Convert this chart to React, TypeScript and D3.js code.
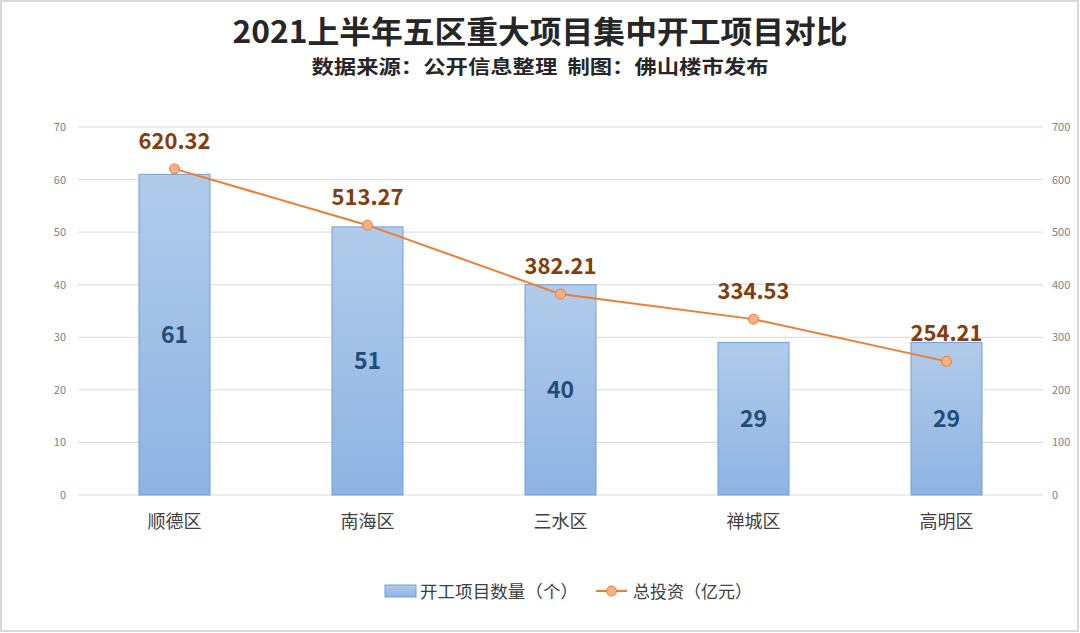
import React from "react";
import * as d3 from "d3";

const categories = ["顺德区", "南海区", "三水区", "禅城区", "高明区"];
const projectCounts = [61, 51, 40, 29, 29];
const investments = [620.32, 513.27, 382.21, 334.53, 254.21];
const leftTicks = [0, 10, 20, 30, 40, 50, 60, 70];
const rightTicks = [0, 100, 200, 300, 400, 500, 600, 700];

const W = 1080, H = 633;
const M = { left: 78, right: 1043, top: 127, bottom: 495 };
const FONT = "'Noto Sans CJK SC', 'Noto Sans', sans-serif";

export default function App() {
  const x = d3.scaleBand<string>().domain(categories).range([M.left, M.right]);
  const yL = d3.scaleLinear().domain([0, 70]).range([M.bottom, M.top]);
  const yR = d3.scaleLinear().domain([0, 700]).range([M.bottom, M.top]);
  const barW = 71;
  const cx = (c: string) => (x(c) as number) + x.bandwidth() / 2;
  const line = d3
    .line<number>()
    .x((_, i) => cx(categories[i]))
    .y((d) => yR(d));

  return (
    <svg
      width={W}
      height={H}
      style={{ position: "absolute", left: 0, top: 0, background: "#fff" }}
      fontFamily={FONT}
    >
      <defs>
        <linearGradient id="barGrad" x1="0" y1="0" x2="0" y2="1">
          <stop offset="0%" stopColor="#B1CBEA" />
          <stop offset="100%" stopColor="#8EB4E3" />
        </linearGradient>
      </defs>
      <rect x={1} y={1} width={W - 3} height={H - 3} fill="#fff" stroke="#D9D9D9" strokeWidth={2} />
      <text x={540} y={43} textAnchor="middle" fontSize={31} fontWeight="bold" fill="#262626"
        textLength={615} lengthAdjust="spacingAndGlyphs">
        2021上半年五区重大项目集中开工项目对比
      </text>
      <text x={540} y={74} textAnchor="middle" fontSize={19} fontWeight="bold" fill="#262626"
        textLength={457} lengthAdjust="spacingAndGlyphs" style={{ whiteSpace: "pre" }}>
        {"数据来源：公开信息整理\u00A0\u00A0制图：佛山楼市发布"}
      </text>
      {leftTicks.map((t) => (
        <g key={t}>
          <line x1={M.left} x2={M.right} y1={yL(t)} y2={yL(t)} stroke="#D9D9D9" strokeWidth={1} />
          <text x={66} y={yL(t) + 4} textAnchor="end" fontSize={11} fill="#7F7F7F">
            {t}
          </text>
        </g>
      ))}
      {rightTicks.map((t) => (
        <text key={t} x={1052} y={yR(t) + 4} textAnchor="start" fontSize={11} fill="#7F7F7F">
          {t}
        </text>
      ))}
      {categories.map((c, i) => (
        <g key={c}>
          <rect
            x={cx(c) - barW / 2}
            y={yL(projectCounts[i])}
            width={barW}
            height={M.bottom - yL(projectCounts[i])}
            fill="url(#barGrad)"
            stroke="#6FA0DA"
            strokeWidth={1}
          />
          <text
            x={cx(c)}
            y={(yL(projectCounts[i]) + M.bottom) / 2 + 8}
            textAnchor="middle"
            fontSize={23}
            fontWeight="bold"
            fill="#1F4E79"
          >
            {projectCounts[i]}
          </text>
          <text x={cx(c)} y={528} textAnchor="middle" fontSize={18} fill="#404040">
            {c}
          </text>
        </g>
      ))}
      <path d={line(investments) || ""} fill="none" stroke="#ED7D31" strokeWidth={2} />
      {investments.map((v, i) => (
        <g key={i}>
          <circle cx={cx(categories[i])} cy={yR(v)} r={5} fill="#F4B183" stroke="#ED7D31" strokeWidth={1} />
          <text
            x={cx(categories[i])}
            y={yR(v) - 20}
            textAnchor="middle"
            fontSize={22}
            fontWeight="bold"
            fill="#843C0C"
          >
            {v.toFixed(2)}
          </text>
        </g>
      ))}
      <g>
        <rect x={385} y={585} width={31} height={12} fill="url(#barGrad)" stroke="#6FA0DA" strokeWidth={1} />
        <text x={420} y={598} fontSize={17} fill="#404040" textLength={158} lengthAdjust="spacingAndGlyphs">
          开工项目数量（个）
        </text>
        <line x1={596} x2={627} y1={591} y2={591} stroke="#ED7D31" strokeWidth={2} />
        <circle cx={611.5} cy={591} r={5} fill="#F4B183" stroke="#ED7D31" strokeWidth={1} />
        <text x={633} y={598} fontSize={17} fill="#404040" textLength={119} lengthAdjust="spacingAndGlyphs">
          总投资（亿元）
        </text>
      </g>
    </svg>
  );
}
